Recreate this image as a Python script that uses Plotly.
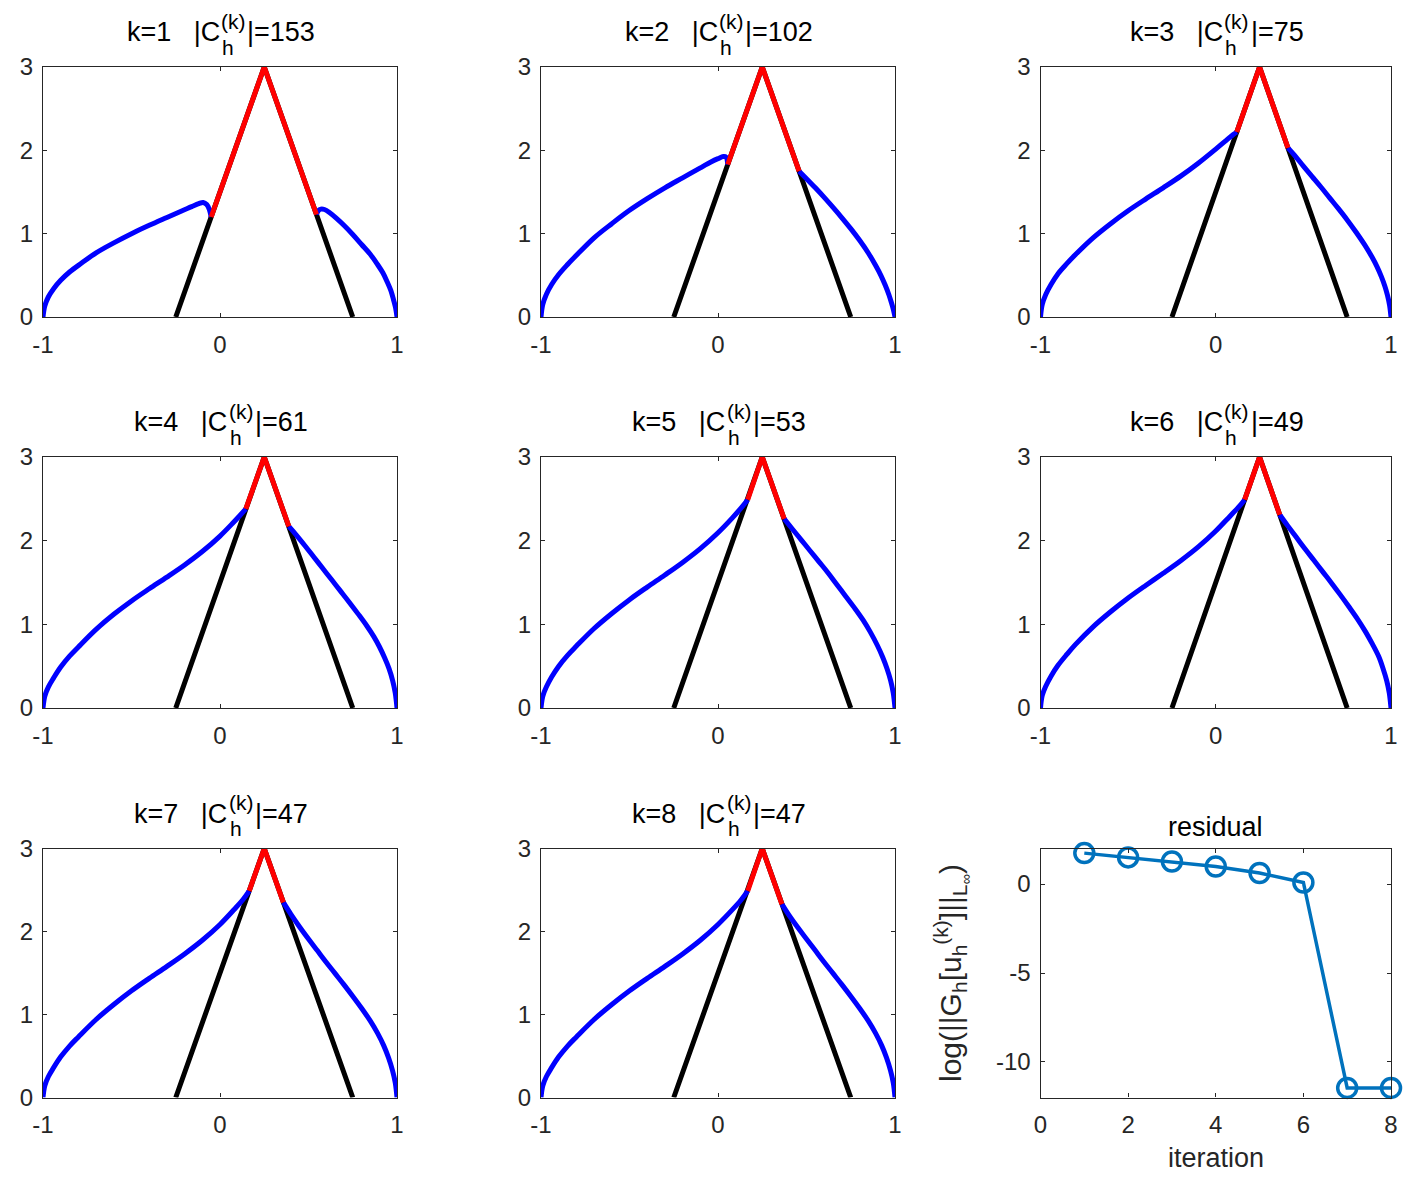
import plotly.graph_objects as go

# page body has an 8px margin, so the figure is 16px smaller than the window
PAGE_W, PAGE_H, BODY = 1418, 1180, 8
FIG_W, FIG_H = PAGE_W - 2 * BODY, PAGE_H - 2 * BODY

# ---- data ----
obstacle_x = [-0.25, 0.25, 0.75]
obstacle_y = [0.0, 3.0, 0.0]

contact_sizes = [153, 102, 75, 61, 53, 49, 47, 47]

blue_left_x = [
    [-1.0, -0.99, -0.97, -0.94, -0.9, -0.85, -0.78, -0.7, -0.6, -0.5, -0.4, -0.3, -0.22, -0.16, -0.12, -0.095, -0.075, -0.06, -0.05],
    [-1.0, -0.99, -0.97, -0.94, -0.9, -0.85, -0.8, -0.7, -0.6, -0.5, -0.4, -0.3, -0.2, -0.1, -0.04, 0.0, 0.03, 0.045, 0.055],
    [-1.0, -0.99, -0.97, -0.94, -0.9, -0.85, -0.8, -0.7, -0.6, -0.5, -0.4, -0.3, -0.2, -0.1, 0.0, 0.06, 0.1, 0.12],
    [-1.0, -0.99, -0.97, -0.94, -0.9, -0.85, -0.8, -0.7, -0.6, -0.5, -0.4, -0.3, -0.2, -0.1, 0.0, 0.07, 0.11, 0.146],
    [-1.0, -0.99, -0.97, -0.94, -0.9, -0.85, -0.8, -0.7, -0.6, -0.5, -0.4, -0.3, -0.2, -0.1, 0.0, 0.08, 0.13, 0.168],
    [-1.0, -0.99, -0.97, -0.94, -0.9, -0.85, -0.8, -0.7, -0.6, -0.5, -0.4, -0.3, -0.2, -0.1, 0.0, 0.08, 0.13, 0.165],
    [-1.0, -0.99, -0.97, -0.94, -0.9, -0.85, -0.8, -0.7, -0.6, -0.5, -0.4, -0.3, -0.2, -0.1, 0.0, 0.08, 0.13, 0.165],
    [-1.0, -0.99, -0.97, -0.94, -0.9, -0.85, -0.8, -0.7, -0.6, -0.5, -0.4, -0.3, -0.2, -0.1, 0.0, 0.08, 0.13, 0.168],
]
blue_left_y = [
    [0.0, 0.13, 0.24, 0.34, 0.44, 0.54, 0.65, 0.77, 0.89, 1.0, 1.1, 1.195, 1.27, 1.325, 1.36, 1.375, 1.35, 1.29, 1.2],
    [0.0, 0.15, 0.27, 0.39, 0.51, 0.63, 0.74, 0.95, 1.12, 1.28, 1.42, 1.55, 1.67, 1.79, 1.86, 1.90, 1.925, 1.92, 1.83],
    [0.0, 0.15, 0.27, 0.39, 0.52, 0.64, 0.75, 0.95, 1.12, 1.275, 1.415, 1.55, 1.69, 1.845, 2.015, 2.12, 2.19, 2.22],
    [0.0, 0.14, 0.25, 0.36, 0.49, 0.62, 0.73, 0.94, 1.12, 1.28, 1.425, 1.565, 1.71, 1.87, 2.055, 2.205, 2.295, 2.38],
    [0.0, 0.14, 0.25, 0.37, 0.50, 0.63, 0.74, 0.95, 1.13, 1.295, 1.445, 1.59, 1.74, 1.905, 2.095, 2.27, 2.39, 2.49],
    [0.0, 0.15, 0.26, 0.38, 0.51, 0.64, 0.76, 0.97, 1.15, 1.315, 1.465, 1.61, 1.76, 1.925, 2.115, 2.29, 2.40, 2.49],
    [0.0, 0.14, 0.25, 0.36, 0.49, 0.62, 0.73, 0.94, 1.12, 1.285, 1.435, 1.58, 1.73, 1.895, 2.085, 2.265, 2.385, 2.49],
    [0.0, 0.14, 0.25, 0.36, 0.49, 0.62, 0.73, 0.94, 1.12, 1.285, 1.435, 1.58, 1.73, 1.895, 2.085, 2.26, 2.38, 2.49],
]
blue_right_x = [
    [0.545, 0.555, 0.57, 0.59, 0.62, 0.66, 0.7, 0.75, 0.8, 0.85, 0.89, 0.92, 0.945, 0.965, 0.98, 0.992, 1.0],
    [0.458, 0.5, 0.55, 0.6, 0.65, 0.7, 0.75, 0.8, 0.85, 0.89, 0.92, 0.945, 0.965, 0.98, 0.992, 1.0],
    [0.412, 0.45, 0.5, 0.55, 0.6, 0.65, 0.7, 0.75, 0.8, 0.85, 0.89, 0.92, 0.945, 0.965, 0.98, 0.992, 1.0],
    [0.389, 0.43, 0.48, 0.53, 0.58, 0.63, 0.68, 0.73, 0.78, 0.83, 0.87, 0.9, 0.93, 0.955, 0.975, 0.99, 1.0],
    [0.374, 0.42, 0.47, 0.52, 0.57, 0.62, 0.67, 0.72, 0.77, 0.82, 0.86, 0.9, 0.93, 0.955, 0.975, 0.99, 1.0],
    [0.365, 0.41, 0.46, 0.51, 0.56, 0.61, 0.66, 0.71, 0.76, 0.81, 0.855, 0.895, 0.93, 0.955, 0.975, 0.99, 1.0],
    [0.358, 0.40, 0.45, 0.50, 0.55, 0.60, 0.65, 0.70, 0.75, 0.80, 0.85, 0.89, 0.925, 0.952, 0.974, 0.99, 1.0],
    [0.361, 0.40, 0.45, 0.50, 0.55, 0.60, 0.65, 0.70, 0.75, 0.80, 0.85, 0.89, 0.925, 0.952, 0.974, 0.99, 1.0],
]
blue_right_y = [
    [1.23, 1.275, 1.295, 1.29, 1.25, 1.18, 1.10, 0.99, 0.87, 0.75, 0.63, 0.53, 0.42, 0.32, 0.21, 0.11, 0.0],
    [1.75, 1.66, 1.55, 1.435, 1.315, 1.19, 1.06, 0.92, 0.765, 0.62, 0.50, 0.38, 0.27, 0.17, 0.08, 0.0],
    [2.03, 1.94, 1.81, 1.685, 1.56, 1.43, 1.30, 1.165, 1.02, 0.865, 0.725, 0.605, 0.485, 0.37, 0.26, 0.14, 0.0],
    [2.17, 2.07, 1.94, 1.805, 1.67, 1.535, 1.40, 1.265, 1.125, 0.98, 0.85, 0.735, 0.60, 0.47, 0.33, 0.18, 0.0],
    [2.26, 2.14, 2.01, 1.88, 1.75, 1.62, 1.48, 1.34, 1.20, 1.05, 0.91, 0.75, 0.61, 0.47, 0.33, 0.18, 0.0],
    [2.31, 2.18, 2.04, 1.90, 1.765, 1.63, 1.495, 1.355, 1.21, 1.06, 0.91, 0.76, 0.615, 0.47, 0.33, 0.18, 0.0],
    [2.35, 2.21, 2.055, 1.91, 1.77, 1.63, 1.495, 1.36, 1.22, 1.075, 0.92, 0.775, 0.625, 0.48, 0.33, 0.18, 0.0],
    [2.33, 2.20, 2.05, 1.91, 1.77, 1.63, 1.495, 1.36, 1.22, 1.075, 0.92, 0.775, 0.625, 0.48, 0.33, 0.18, 0.0],
]
contact_x = [
    [-0.05, 0.25, 0.545], [0.055, 0.25, 0.458], [0.12, 0.25, 0.412], [0.146, 0.25, 0.389],
    [0.168, 0.25, 0.374], [0.165, 0.25, 0.365], [0.165, 0.25, 0.358], [0.168, 0.25, 0.361],
]
contact_y = [
    [1.2, 3.0, 1.23], [1.83, 3.0, 1.75], [2.22, 3.0, 2.03], [2.38, 3.0, 2.17],
    [2.49, 3.0, 2.26], [2.49, 3.0, 2.31], [2.49, 3.0, 2.35], [2.49, 3.0, 2.33],
]

iterations = [1, 2, 3, 4, 5, 6, 7, 8]
log_residual = [1.74, 1.50, 1.27, 0.99, 0.62, 0.09, -11.46, -11.46]

# ---- layout helpers (pixel boxes of the axes, window coordinates) ----
col_px = [(43, 397), (541, 895), (1040.5, 1391)]
row_px = [(67, 317), (457, 708), (848.5, 1097.5)]

FONT = "Arial, Liberation Sans, sans-serif"
AX_COLOR = "#262626"


def px_x(p):
    return (p - BODY) / FIG_W


def px_y(p):
    return 1 - (p - BODY) / FIG_H


# Arial advance widths (em) for the title pieces
CHAR_W = {'k': 0.5, '=': 0.584, ' ': 0.278, '|': 0.26, 'C': 0.722, '(': 0.333, ')': 0.333, 'h': 0.556}
for d in '0123456789':
    CHAR_W[d] = 0.556


def text_w(s, size):
    return sum(CHAR_W[c] for c in s) * size


fig = go.Figure()
annotations = []
axes = {}

TITLE_SIZE = 27
SMALL_SIZE = 21
TICK_SIZE = 24

for i in range(9):
    r, c = divmod(i, 3)
    n = '' if i == 0 else str(i + 1)
    xa, ya = 'x' + n, 'y' + n
    x0, x1 = col_px[c]
    y0, y1 = row_px[r]

    common = dict(
        showline=True, linecolor=AX_COLOR, linewidth=1.2, mirror='ticks',
        ticks='inside', ticklen=4, tickwidth=1.2, tickcolor=AX_COLOR,
        showgrid=False, zeroline=False, automargin=False, fixedrange=True,
        tickfont=dict(family=FONT, size=TICK_SIZE, color=AX_COLOR),
    )
    axes['xaxis' + n] = dict(common, domain=[px_x(x0), px_x(x1)], anchor=ya, ticklabelstandoff=6)
    axes['yaxis' + n] = dict(common, domain=[px_y(y1), px_y(y0)], anchor=xa, ticklabelstandoff=4)

    cx = px_x((x0 + x1) / 2)

    if i < 8:
        axes['xaxis' + n].update(range=[-1, 1], tickvals=[-1, 0, 1], ticktext=['-1', '0', '1'])
        axes['yaxis' + n].update(range=[0, 3], tickvals=[0, 1, 2, 3])

        fig.add_trace(go.Scatter(x=obstacle_x, y=obstacle_y, mode='lines',
                                 line=dict(color='black', width=5), xaxis=xa, yaxis=ya))
        for bx, by in ((blue_left_x[i], blue_left_y[i]), (blue_right_x[i], blue_right_y[i])):
            fig.add_trace(go.Scatter(x=bx, y=by, mode='lines', cliponaxis=False,
                                     line=dict(color='#0000ff', width=5, shape='spline', smoothing=1.0),
                                     xaxis=xa, yaxis=ya))
        fig.add_trace(go.Scatter(x=contact_x[i], y=contact_y[i], mode='lines',
                                 line=dict(color='#ff0000', width=5), xaxis=xa, yaxis=ya))

        # title  k=i  |C_h^(k)|=N  built from pieces so that h and (k) stack
        head = f"k={i + 1}   |C"
        tail = f"|={contact_sizes[i]}"
        w_head = text_w(head, TITLE_SIZE)
        w_sup = text_w("(k)", SMALL_SIZE) + 3
        w_tail = text_w(tail, TITLE_SIZE)
        total = w_head + w_sup + w_tail
        ty = px_y(y0 - 35)
        base = dict(xref='paper', yref='paper', x=cx, y=ty, showarrow=False,
                    xanchor='left', yanchor='middle', borderpad=0)
        annotations.append(dict(base, text=head, xshift=-total / 2,
                                font=dict(family=FONT, size=TITLE_SIZE, color='black')))
        annotations.append(dict(base, text="(k)", xshift=-total / 2 + w_head + 1, yshift=11,
                                font=dict(family=FONT, size=SMALL_SIZE, color='black')))
        annotations.append(dict(base, text="h", xshift=-total / 2 + w_head + 2, yshift=-15,
                                font=dict(family=FONT, size=SMALL_SIZE, color='black')))
        annotations.append(dict(base, text=tail, xshift=-total / 2 + w_head + w_sup,
                                font=dict(family=FONT, size=TITLE_SIZE, color='black')))
    else:
        axes['xaxis' + n].update(range=[0, 8], tickvals=[0, 2, 4, 6, 8])
        axes['yaxis' + n].update(range=[-12, 2], tickvals=[-10, -5, 0], ticktext=['-10', '-5', '0'])
        fig.add_trace(go.Scatter(
            x=iterations, y=log_residual, mode='lines+markers',
            line=dict(color='#0072BD', width=3.5),
            marker=dict(symbol='circle-open', size=19, color='#0072BD', line=dict(width=3.5, color='#0072BD')),
            cliponaxis=False, xaxis=xa, yaxis=ya))
        annotations.append(dict(xref='paper', yref='paper', x=cx, y=px_y(827), showarrow=False,
                                xanchor='center', yanchor='middle', text='residual',
                                font=dict(family=FONT, size=TITLE_SIZE, color='black')))
        annotations.append(dict(xref='paper', yref='paper', x=cx, y=px_y(1158), showarrow=False,
                                xanchor='center', yanchor='middle', text='iteration',
                                font=dict(family=FONT, size=TITLE_SIZE, color=AX_COLOR)))
        annotations.append(dict(xref='paper', yref='paper', x=px_x(951), y=px_y((y0 + y1) / 2),
                                showarrow=False, textangle=-90, xanchor='center', yanchor='middle',
                                text='log(||G<sub>h</sub>[u<sub>h</sub><sup>(k)</sup>]||<sub>L<sub>∞</sub></sub>)',
                                font=dict(family=FONT, size=30, color=AX_COLOR)))

fig.update_layout(
    width=FIG_W, height=FIG_H,
    margin=dict(l=0, r=0, t=0, b=0),
    paper_bgcolor='white', plot_bgcolor='white',
    showlegend=False,
    annotations=annotations,
    **axes,
)

fig.write_html("out.html")
